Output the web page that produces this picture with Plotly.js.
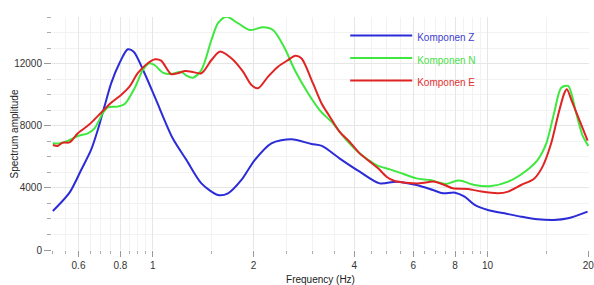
<!DOCTYPE html>
<html>
<head>
<meta charset="utf-8">
<script src="https://cdn.plot.ly/plotly-3.0.1.min.js"></script>
<style>html,body{margin:0;padding:0;background:#fff;}#chart{width:594px;height:285px;}</style>
</head>
<body>
<div id="chart"></div>
<script>
// Frequency (Hz) and spectrum amplitude for each component
const freqZ = [0.503,0.564,0.611,0.654,0.685,0.717,0.751,0.795,0.842,0.877,0.945,1.023,1.147,1.26,1.397,1.566,1.678,1.84,2.016,2.261,2.594,2.98,3.2,3.61,4.15,4.76,5.34,6.13,6.87,7.36,8.0,8.54,9.15,10.02,11.24,12.6,14.1,15.8,17.4,19.9];
const ampZ  = [2510,3690,5150,6440,7730,9230,10730,12020,12920,12770,11380,9660,7190,5800,4290,3540,3650,4510,5790,6870,7130,6820,6700,5900,5040,4290,4400,4185,3860,3650,3690,3430,2900,2575,2360,2145,1975,1930,2040,2470];

const freqN = [0.503,0.532,0.557,0.597,0.64,0.67,0.709,0.734,0.786,0.823,0.882,0.934,0.977,1.012,1.071,1.134,1.215,1.26,1.319,1.397,1.497,1.566,1.659,1.797,1.948,2.135,2.287,2.478,2.655,2.91,3.15,3.45,3.79,4.15,4.66,5.11,5.46,6.13,6.73,7.21,7.53,8.08,8.34,9.15,10.27,11.52,12.93,14.1,14.98,15.8,16.6,17.4,18.4,19.2,20];
const ampN  = [6870,6870,7020,7340,7510,7830,8800,9190,9230,9380,10410,11590,12020,11910,11420,11330,11480,11230,11090,11590,13520,14600,15020,14600,14160,14340,14160,12990,11590,10090,9010,8160,7080,6220,5470,5190,4980,4610,4500,4330,4250,4460,4460,4185,4120,4400,5040,5790,6870,8800,10450,10560,8800,7400,6700];

const freqE = [0.503,0.52,0.538,0.564,0.597,0.647,0.701,0.751,0.804,0.852,0.902,0.966,1.016,1.059,1.134,1.187,1.25,1.305,1.397,1.497,1.585,1.717,1.86,1.971,2.063,2.21,2.366,2.535,2.667,2.78,3.01,3.2,3.38,3.61,3.87,4.15,4.45,4.71,4.99,5.28,5.72,6.27,6.94,7.44,7.87,8.74,9.59,10.75,11.52,12.6,13.8,14.6,15.49,16.2,16.95,17.25,17.88,18.8,19.9];
const ampE  = [6760,6700,6910,6930,7510,8090,8840,9480,9980,10510,11380,12020,12280,12190,11330,11380,11520,11480,11380,12230,12770,12340,11480,10620,10410,11160,11800,12230,12510,12340,10730,9400,8580,7620,6970,6220,5690,5260,4720,4440,4330,4290,4400,4185,3970,3930,3760,3650,3760,4185,4610,5370,6870,8580,10090,10350,9550,8370,7040];

const seriesNames = ['Komponen Z','Komponen N','Komponen E'];
const xTickVals = [0.6,0.8,1,2,4,6,8,10,20];
const xTickText = ['0.6','0.8','1','2','4','6','8','10','20'];
const xMinorVals = [0.5,0.55,0.65,0.7,0.75,0.85,0.9,0.95,1.5,2.5,3,3.5,4.5,5,5.5,6.5,7,7.5,8.5,9,9.5,15];
const yTickVals = [0,4000,8000,12000];
const yMinorVals = [1000,2000,3000,5000,6000,7000,9000,10000,11000,13000,14000,15000];

const colors = ['#2b2bd8','#3ee83e','#e02424'];
const textColors = ['#4040d0','#48e048','#e03030'];
const data = [[freqZ,ampZ],[freqN,ampN],[freqE,ampE]].map((d,i)=>({
  x:d[0], y:d[1], type:'scatter', mode:'lines',
  name:'<span style="font-size:10px;color:'+textColors[i]+'">'+seriesNames[i]+'</span>',
  line:{color:colors[i], width:2, shape:'spline', smoothing:0.8}
}));

const layout = {
  width:594, height:285,
  margin:{l:52, r:5, t:17, b:35},
  paper_bgcolor:'#fff', plot_bgcolor:'#fff',
  font:{family:'"Liberation Sans", Arial, sans-serif', size:10, color:'#333'},
  showlegend:true,
  legend:{x:0.546, y:0.99, xanchor:'left', yanchor:'top', bgcolor:'rgba(0,0,0,0)',
          font:{size:15, color:'#333'}, itemwidth:62, tracegroupgap:0},
  xaxis:{type:'log', range:[Math.log10(0.5), Math.log10(20)+0.002],
    tickmode:'array', tickvals:xTickVals, ticktext:xTickText, ticklabeloverflow:'allow',
    ticks:'outside', ticklen:6, tickcolor:'#999', tickwidth:1,
    showgrid:true, gridcolor:'#e6e6e6', zeroline:false, showline:false,
    minor:{tickmode:'array', tickvals:xMinorVals, ticks:'outside', ticklen:3, tickcolor:'#aaa', showgrid:true, gridcolor:'#f2f2f2'},
    title:{text:'Frequency (Hz)', font:{size:10, color:'#222'}, standoff:6},
    tickfont:{size:10, color:'#333'}},
  yaxis:{range:[0,15000], tickmode:'array', tickvals:yTickVals, ticktext:yTickVals.map(String),
    ticks:'outside', ticklen:7, tickcolor:'#999', tickwidth:1,
    showgrid:true, gridcolor:'#e6e6e6', zeroline:false, showline:false,
    minor:{tickmode:'array', tickvals:yMinorVals, ticks:'outside', ticklen:4, tickcolor:'#aaa', showgrid:true, gridcolor:'#f2f2f2'},
    tickfont:{size:10, color:'#333'}},
  annotations:[{text:'Spectrum amplitude', xref:'paper', yref:'paper', x:-0.069, y:0.5,
    xanchor:'center', yanchor:'middle', textangle:-90, showarrow:false,
    font:{size:10, color:'#222'}}]
};
Plotly.newPlot('chart', data, layout, {displayModeBar:false, staticPlot:true});
</script>
</body>
</html>
